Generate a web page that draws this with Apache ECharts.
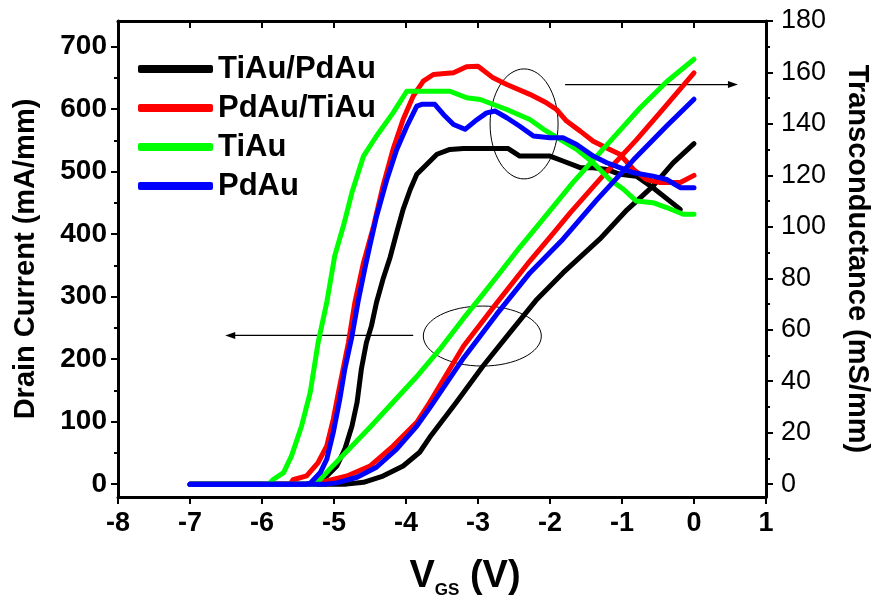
<!DOCTYPE html>
<html>
<head>
<meta charset="utf-8">
<script src="https://cdn.jsdelivr.net/npm/echarts@6/dist/echarts.min.js"></script>
<style>html,body{margin:0;padding:0;background:#fff}#c{width:872px;height:606px}</style>
</head>
<body>
<div id="c"></div>
<script>
// ---- data (VGS in V, drain current in mA/mm, transconductance in mS/mm) ----
const seriesNames = ['TiAu/PdAu', 'PdAu/TiAu', 'TiAu', 'PdAu'];
const xTicks = [-8, -7, -6, -5, -4, -3, -2, -1, 0, 1];
const leftTicks = [0, 100, 200, 300, 400, 500, 600, 700];
const leftMinorTicks = [50, 150, 250, 350, 450, 550, 650];
const rightTicks = [0, 20, 40, 60, 80, 100, 120, 140, 160, 180];
const rightMinorTicks = [10, 30, 50, 70, 90, 110, 130, 150, 170];

const idBlack = [[-7,0],[-4.83,0],[-4.59,3],[-4.32,13],[-4.04,29],[-3.81,51],[-3.67,75],[-3.3,131],[-2.93,189],[-2.56,242],[-2.18,296],[-1.82,338],[-1.31,392],[-0.93,439],[-0.57,477],[-0.29,514],[0,545]];
const idRed = [[-7,0],[-5.29,0],[-5.1,5],[-4.82,13],[-4.5,29],[-4.18,61],[-3.85,99],[-3.67,131],[-3.2,221],[-2.74,290],[-2.28,357],[-1.95,402],[-1.72,434],[-1.26,494],[-0.8,551],[-0.43,600],[0,658]];
const idGreen = [[-7,0],[-5.25,0],[-5.06,24],[-4.78,57.5],[-4.5,91],[-4.18,131],[-3.86,171],[-3.53,216],[-3.21,264],[-2.93,304],[-2.69,339],[-2.42,379],[-2.19,411],[-1.68,483],[-1.21,543],[-0.75,602],[-0.38,644],[0,680]];
const idBlue = [[-7,0],[-5.11,0],[-4.96,2],[-4.68,11],[-4.41,27],[-4.13,56],[-3.85,93],[-3.67,122],[-3.2,202],[-2.74,272],[-2.28,338],[-1.82,392],[-1.35,455],[-0.84,519],[-0.38,573],[0,616]];

const gmBlack = [[-7,0],[-5.29,0],[-5.1,3.2],[-4.96,7.1],[-4.85,13.6],[-4.75,22.6],[-4.68,31.7],[-4.62,44.7],[-4.55,55],[-4.48,61.5],[-4.41,70.6],[-4.32,79.6],[-4.22,88.2],[-4.13,97.7],[-4.04,106.8],[-3.94,114.6],[-3.85,120.4],[-3.71,124.3],[-3.57,128.2],[-3.39,130.1],[-3.2,130.4],[-2.58,130.4],[-2.42,127.5],[-2.0,127.5],[-1.82,125.6],[-1.58,123],[-1.4,123],[-1.21,122.3],[-1.03,120.4],[-0.8,119.7],[-0.57,115.2],[-0.19,106.8]];
const gmRed = [[-7,0],[-5.61,0],[-5.57,1.7],[-5.38,3.2],[-5.22,8.4],[-5.1,14.9],[-5.01,25.2],[-4.92,38.2],[-4.8,55],[-4.71,70.6],[-4.59,86.1],[-4.45,100.3],[-4.32,115.8],[-4.18,130.1],[-4.04,141.7],[-3.9,150.8],[-3.76,156.6],[-3.62,159.2],[-3.34,159.9],[-3.16,162.2],[-3.0,162.4],[-2.79,157.9],[-2.6,155.3],[-2.28,151.5],[-2.05,148.2],[-1.91,145.6],[-1.77,141.1],[-1.58,137.2],[-1.4,133.3],[-1.17,130.1],[-1.03,128.2],[-0.84,122.3],[-0.66,118.4],[-0.47,117.2],[-0.19,117.2],[0,120]];
const gmGreen = [[-7,0],[-5.9,0],[-5.85,1.7],[-5.7,4.5],[-5.59,11],[-5.45,22.6],[-5.33,35.7],[-5.22,55.1],[-5.1,70.7],[-4.99,88.7],[-4.87,100.3],[-4.75,113.4],[-4.59,127.5],[-4.41,135.3],[-4.18,144.3],[-3.99,152.7],[-3.39,152.7],[-3.16,150.2],[-2.97,149.5],[-2.6,145.6],[-2.28,141.7],[-2.09,137.9],[-1.86,134],[-1.63,130.1],[-1.4,124.9],[-1.17,118.4],[-0.98,114.6],[-0.8,110],[-0.57,109.4],[-0.38,107.5],[-0.15,104.9],[0,104.9]];
const gmBlue = [[-7,0],[-5.39,0],[-5.33,0.4],[-5.19,4.5],[-5.1,9.7],[-5.01,20.1],[-4.92,33],[-4.85,44.7],[-4.75,57.6],[-4.66,71.8],[-4.57,84],[-4.5,93],[-4.41,104],[-4.27,118],[-4.13,130],[-3.99,139],[-3.85,146.9],[-3.78,147.6],[-3.6,147.6],[-3.48,143.7],[-3.34,139.8],[-3.18,137.9],[-3.04,141.1],[-2.88,144.3],[-2.76,145],[-2.6,142.4],[-2.42,139.1],[-2.23,135.3],[-2.0,134.6],[-1.82,134.6],[-1.63,132],[-1.4,127.5],[-1.21,124.9],[-1.03,123],[-0.84,121],[-0.57,119.7],[-0.38,118.4],[-0.19,115.2],[0,115.2]];

// ---- styling / layout ----
const colors = ['#000000', '#ff0000', '#00ff00', '#0000ff'];
const FONT = 'Arial, "Liberation Sans", sans-serif';
const RIGHT_MIN = -5, RIGHT_MAX = 180;
const LEFT_MIN = RIGHT_MIN * 700 / 170, LEFT_MAX = RIGHT_MAX * 700 / 170;
const X_MIN = -8, X_MAX = 1;

const chart = echarts.init(document.getElementById('c'), null, { renderer: 'canvas' });

function ln(name, color, data, yIdx) {
  return {
    name: name, type: 'line', data: data, xAxisIndex: 0, yAxisIndex: yIdx,
    symbol: 'none', showSymbol: false, animation: false, silent: true,
    lineStyle: { color: color, width: 5, join: 'round', cap: 'round' },
    itemStyle: { color: color }
  };
}

const AXL = { color: '#000', width: 3 };
const TKL = { color: '#000', width: 2 };

const option = {
  backgroundColor: '#fff',
  animation: false,
  grid: { left: 118, right: 106, top: 21, bottom: 109, containLabel: false },
  legend: {
    orient: 'vertical', left: 133, top: 48, itemGap: 7,
    itemWidth: 75, itemHeight: 8, icon: 'roundRect', selectedMode: false,
    data: seriesNames,
    textStyle: { fontSize: 31, fontWeight: 'bold', color: '#000', fontFamily: FONT, lineHeight: 32 }
  },
  xAxis: [
    { type: 'value', position: 'bottom', min: X_MIN, max: X_MAX, interval: 1,
      axisLine: { show: true, onZero: false, lineStyle: AXL },
      axisTick: { show: true, inside: false, length: 7, lineStyle: TKL },
      axisLabel: { show: true, margin: 13, fontSize: 27, fontWeight: 'bold', color: '#000', fontFamily: FONT },
      splitLine: { show: false } },
    { type: 'value', position: 'top', min: X_MIN, max: X_MAX, interval: 1,
      axisLine: { show: true, onZero: false, lineStyle: AXL },
      axisTick: { show: true, inside: true, length: 7, lineStyle: TKL },
      axisLabel: { show: false }, splitLine: { show: false } }
  ],
  yAxis: [
    { type: 'value', position: 'left', min: LEFT_MIN, max: LEFT_MAX,
      axisLine: { show: true, onZero: false, lineStyle: AXL },
      axisTick: { show: true, inside: false, length: 7, lineStyle: TKL, customValues: leftTicks },
      axisLabel: { show: true, margin: 11, fontSize: 28, fontWeight: 'bold', color: '#000', fontFamily: FONT, customValues: leftTicks },
      splitLine: { show: false } },
    { type: 'value', position: 'right', min: RIGHT_MIN, max: RIGHT_MAX,
      axisLine: { show: true, onZero: false, lineStyle: AXL },
      axisTick: { show: true, inside: false, length: 7, lineStyle: TKL, customValues: rightTicks },
      axisLabel: { show: true, margin: 15, fontSize: 27, fontWeight: 'normal', color: '#000', fontFamily: FONT, customValues: rightTicks },
      splitLine: { show: false } },
    { type: 'value', position: 'left', offset: 0, min: LEFT_MIN, max: LEFT_MAX,
      axisLine: { show: false, onZero: false },
      axisTick: { show: true, inside: false, length: 4, lineStyle: TKL, customValues: leftMinorTicks },
      axisLabel: { show: false }, splitLine: { show: false } },
    { type: 'value', position: 'right', offset: 0, min: RIGHT_MIN, max: RIGHT_MAX,
      axisLine: { show: false, onZero: false },
      axisTick: { show: true, inside: false, length: 4, lineStyle: TKL, customValues: rightMinorTicks },
      axisLabel: { show: false }, splitLine: { show: false } }
  ],
  series: [
    ln(seriesNames[0], colors[0], idBlack, 0),
    ln(seriesNames[0], colors[0], gmBlack, 1),
    ln(seriesNames[1], colors[1], idRed, 0),
    ln(seriesNames[1], colors[1], gmRed, 1),
    ln(seriesNames[2], colors[2], idGreen, 0),
    ln(seriesNames[2], colors[2], gmGreen, 1),
    ln(seriesNames[3], colors[3], idBlue, 0),
    ln(seriesNames[3], colors[3], gmBlue, 1)
  ]
};
chart.setOption(option);

// ---- annotations (in data coordinates) ----
const annGm = { cx: -2.36, cy: 140, rx: 34, ry: 55, arrowFrom: -1.79, arrowTo: 0.61, arrowY: 155.3 };
const annId = { cx: -2.94, cy: 237, rx: 59, ry: 30, arrowFrom: -3.9, arrowTo: -6.51, arrowY: 238 };

function pR(x, y) { return chart.convertToPixel({ xAxisIndex: 0, yAxisIndex: 1 }, [x, y]); }
function pL(x, y) { return chart.convertToPixel({ xAxisIndex: 0, yAxisIndex: 0 }, [x, y]); }

function arrow(p0, p1) {
  const dir = Math.sign(p1[0] - p0[0]);
  const tip = p1[0], y = p1[1];
  return [
    { type: 'line', silent: true, shape: { x1: p0[0], y1: y, x2: tip - dir * 4, y2: y }, style: { stroke: '#000', lineWidth: 1.2 } },
    { type: 'polygon', silent: true, shape: { points: [[tip, y], [tip - dir * 10, y - 3.5], [tip - dir * 10, y + 3.5]] }, style: { fill: '#000' } }
  ];
}

const eG = pR(annGm.cx, annGm.cy);
const eI = pL(annId.cx, annId.cy);
const g = [];
g.push({ type: 'ellipse', silent: true, shape: { cx: eG[0], cy: eG[1], rx: annGm.rx, ry: annGm.ry }, style: { fill: 'none', stroke: '#000', lineWidth: 1 } });
g.push({ type: 'ellipse', silent: true, shape: { cx: eI[0], cy: eI[1], rx: annId.rx, ry: annId.ry }, style: { fill: 'none', stroke: '#000', lineWidth: 1 } });
g.push.apply(g, arrow(pR(annGm.arrowFrom, annGm.arrowY), pR(annGm.arrowTo, annGm.arrowY)));
g.push.apply(g, arrow(pL(annId.arrowFrom, annId.arrowY), pL(annId.arrowTo, annId.arrowY)));

// axis titles
g.push({ type: 'text', silent: true, x: 26, y: 259, rotation: Math.PI / 2,
  style: { text: 'Drain Current (mA/mm)', font: 'bold 29px ' + FONT, fill: '#000', align: 'center', verticalAlign: 'middle' } });
g.push({ type: 'text', silent: true, x: 857, y: 259, rotation: -Math.PI / 2,
  style: { text: 'Transconductance (mS/mm)', font: 'bold 29px ' + FONT, fill: '#000', align: 'center', verticalAlign: 'middle' } });
g.push({ type: 'text', silent: true, x: 465, y: 577,
  style: { text: '{v|V}{s|GS}{v| (V)}', fill: '#000', align: 'center', verticalAlign: 'middle',
    rich: {
      v: { fontSize: 38, fontWeight: 'bold', fontFamily: FONT, lineHeight: 44, fill: '#000' },
      s: { fontSize: 17, fontWeight: 'bold', fontFamily: FONT, lineHeight: 10, verticalAlign: 'bottom', fill: '#000' }
    } } });

chart.setOption({ graphic: { elements: g } });
</script>
</body>
</html>
